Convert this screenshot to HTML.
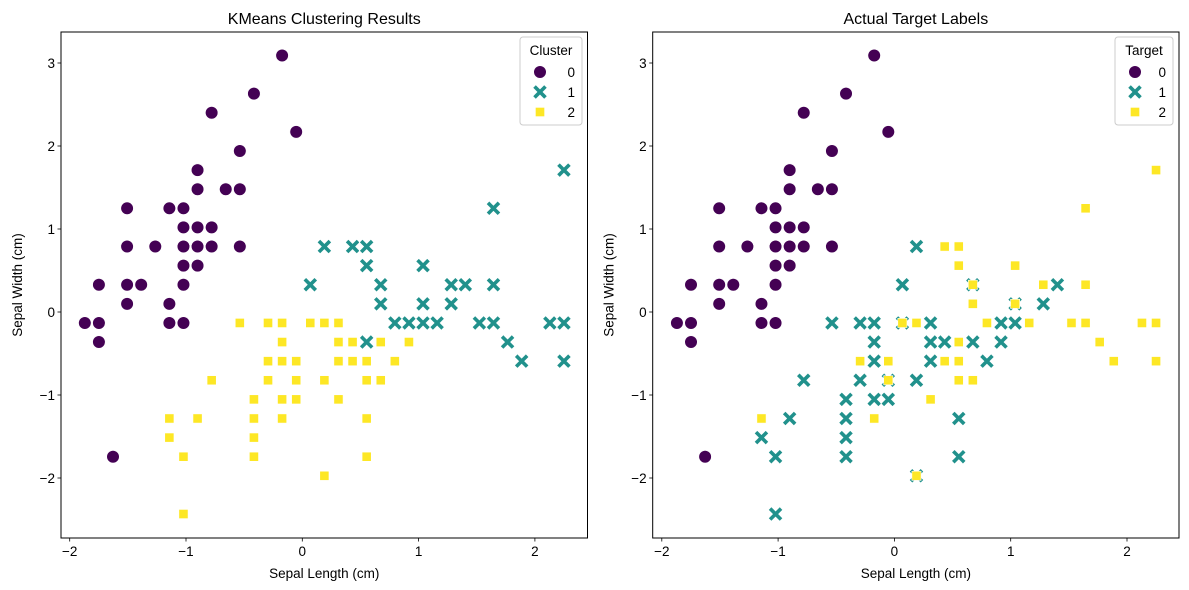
<!DOCTYPE html>
<html><head><meta charset="utf-8">
<style>
html,body{margin:0;padding:0;background:#fff;}
svg{display:block;font-family:"Liberation Sans","DejaVu Sans",sans-serif;}
</style></head>
<body>
<svg id="chart" width="1189" height="590" viewBox="0 0 1189 590" xmlns="http://www.w3.org/2000/svg"></svg>
<script>
// Iris sepal measurements (cm) as shown in the plot
const sepalLength = [5.7,5.5,5.2,5.8,5.4,5.1,5.1,5.3,5.4,4.6,4.9,5.0,5.0,5.1,5.2,4.6,4.8,5.0,5.1,5.2,5.4,5.0,5.1,4.4,4.6,4.7,5.0,4.6,4.9,4.3,4.4,4.9,5.0,4.4,4.5,
 6.0,5.9,6.4,7.0,6.7,6.9,5.4,5.6,5.7,5.9,6.1,6.6,6.7,5.7,6.1,6.2,6.4,6.6,5.7,6.1,6.5,5.2,5.6,5.8,6.0,5.5,5.7,5.8,5.1,5.5,6.3,4.9,5.5,5.0,5.5,6.3,6.0,5.0,
 7.7,7.2,6.2,6.3,6.3,6.7,6.4,6.9,7.2,6.4,6.7,5.9,6.0,6.5,6.8,7.1,7.2,7.6,7.7,6.3,7.3,5.6,5.8,6.2,6.3,7.4,7.7,5.8,6.3,6.4,6.1,4.9,5.7,6.0];
const sepalWidth = [4.4,4.2,4.1,4.0,3.9,3.8,3.7,3.7,3.7,3.6,3.6,3.6,3.5,3.5,3.5,3.4,3.4,3.4,3.4,3.4,3.4,3.3,3.3,3.2,3.2,3.2,3.2,3.1,3.1,3.0,3.0,3.0,3.0,2.9,2.3,
 3.4,3.2,3.2,3.2,3.1,3.1,3.0,3.0,3.0,3.0,3.0,3.0,3.0,2.9,2.9,2.9,2.9,2.9,2.8,2.8,2.8,2.7,2.7,2.7,2.7,2.6,2.6,2.6,2.5,2.5,2.5,2.4,2.4,2.3,2.3,2.3,2.2,2.0,
 3.8,3.6,3.4,3.4,3.3,3.3,3.2,3.2,3.2,3.1,3.1,3.0,3.0,3.0,3.0,3.0,3.0,3.0,3.0,2.9,2.9,2.8,2.8,2.8,2.8,2.8,2.8,2.7,2.7,2.7,2.6,2.5,2.5,2.2];
const targetLabels = [0,0,0,0,0,0,0,0,0,0,0,0,0,0,0,0,0,0,0,0,0,0,0,0,0,0,0,0,0,0,0,0,0,0,0,
 1,1,1,1,1,1,1,1,1,1,1,1,1,1,1,1,1,1,1,1,1,1,1,1,1,1,1,1,1,1,1,1,1,1,1,1,1,1,
 2,2,2,2,2,2,2,2,2,2,2,2,2,2,2,2,2,2,2,2,2,2,2,2,2,2,2,2,2,2,2,2,2,2];
const clusterLabels = [0,0,0,0,0,0,0,0,0,0,0,0,0,0,0,0,0,0,0,0,0,0,0,0,0,0,0,0,0,0,0,0,0,0,0,
 1,1,1,1,1,1,2,2,2,2,2,1,1,2,2,2,2,2,2,2,2,2,2,2,2,2,2,2,2,2,2,2,2,2,2,2,2,2,
 1,1,1,1,1,1,1,1,1,1,1,2,2,1,1,1,1,1,1,1,1,2,2,2,2,1,1,2,2,2,2,2,2,2];
// StandardScaler parameters (full iris dataset)
const scalerMean = [5.8433, 3.0573];
const scalerStd = [0.8253, 0.4344];
const xTicks = [-2,-1,0,1,2];
const yTicks = [-2,-1,0,1,2,3];
const legendLabels = ['0','1','2'];

const colors = ['#440154','#21918c','#fde725'];
const NS = 'http://www.w3.org/2000/svg';
const svg = document.getElementById('chart');
function mk(tag, attrs, parent){
  const e = document.createElementNS(NS, tag);
  for (const k in attrs) e.setAttribute(k, attrs[k]);
  (parent||svg).appendChild(e);
  return e;
}
function fmt(v){ return v<0 ? '\u2212'+Math.abs(v) : String(v); }

function marker(g, kind, cx, cy){
  let m;
  if (kind===0){
    m = mk('circle',{cx:cx,cy:cy,r:6.3,fill:colors[0],stroke:'#fff','stroke-width':0.6},g);
  } else if (kind===1){
    m = mk('g',{},g);
    const d = 4.2;
    mk('path',{d:`M${cx-d},${cy-d}L${cx+d},${cy+d}M${cx-d},${cy+d}L${cx+d},${cy-d}`,stroke:'#fff','stroke-width':5,'stroke-linecap':'square',fill:'none'},m);
    mk('path',{d:`M${cx-d},${cy-d}L${cx+d},${cy+d}M${cx-d},${cy+d}L${cx+d},${cy-d}`,stroke:colors[1],'stroke-width':3.6,'stroke-linecap':'square',fill:'none'},m);
  } else {
    m = mk('rect',{x:cx-4.6,y:cy-4.6,width:9.2,height:9.2,fill:colors[2],stroke:'#fff','stroke-width':0.6},g);
  }
  return m;
}

function panel(cfg){
  const g = mk('g',{});
  
  
  const xs = v => cfg.x0 + v*116.3;
  const ys = v => 312 - v*83;
  // points
  const pts = mk('g',{},g);
  
  
  for (let i=0;i<sepalLength.length;i++){
    const vx = (sepalLength[i]-scalerMean[0])/scalerStd[0];
    const vy = (sepalWidth[i]-scalerMean[1])/scalerStd[1];
    const m = marker(pts, cfg.labels[i], xs(vx), ys(vy));
    
    
  }
  // frame
  const fr = mk('rect',{x:cfg.left,y:32,width:cfg.right-cfg.left,height:506,fill:'none',stroke:'#000','stroke-width':1},g);
  
  
  // x ticks
  xTicks.forEach(t=>{
    const x = xs(t);
    mk('line',{x1:x,y1:538,x2:x,y2:541.5,stroke:'#000','stroke-width':0.8},g);
    const tl = mk('text',{x:x,y:556,'font-size':13.5,'text-anchor':'middle',fill:'#000'},g);
    tl.textContent = fmt(t);
    
    
  });
  yTicks.forEach(t=>{
    const y = ys(t);
    mk('line',{x1:cfg.left-3.5,y1:y,x2:cfg.left,y2:y,stroke:'#000','stroke-width':0.8},g);
    const tl = mk('text',{x:cfg.left-6,y:y+5,'font-size':13.5,'text-anchor':'end',fill:'#000'},g);
    tl.textContent = fmt(t);
    
    
  });
  const cx = (cfg.left+cfg.right)/2;
  const ti = mk('text',{x:cx,y:24,'font-size':16,'text-anchor':'middle',fill:'#000'},g);
  ti.textContent = cfg.title;
  
  
  const xl = mk('text',{x:cx,y:578,'font-size':13.5,'text-anchor':'middle',fill:'#000'},g);
  xl.textContent = 'Sepal Length (cm)';
  
  
  const yx = cfg.left-39, yy = 285;
  const yl = mk('text',{x:yx,y:yy,'font-size':13.5,'text-anchor':'middle',fill:'#000',transform:`rotate(-90 ${yx} ${yy})`},g);
  yl.textContent = 'Sepal Width (cm)';
  
  
  // legend
  const lg = mk('g',{},g);
  
  
  mk('rect',{x:cfg.legX,y:37,width:cfg.legW,height:88,rx:3,fill:'#fff','fill-opacity':0.8,stroke:'#ccc','stroke-width':1},lg);
  const lt = mk('text',{x:cfg.legX+cfg.legW/2,y:55,'font-size':13.5,'text-anchor':'middle',fill:'#000'},lg);
  lt.textContent = cfg.legTitle;
  
  
  legendLabels.forEach((lab,k)=>{
    const y = 72 + k*20;
    const e = mk('g',{},lg);
    
    
    marker(e, k, cfg.legX+20, y);
    const t = mk('text',{x:cfg.legX+cfg.legW-7,y:y+5,'font-size':13.5,'text-anchor':'end',fill:'#000'},e);
    t.textContent = lab;
  });
}

panel({name:'kmeans-panel',title:'KMeans Clustering Results',x0:302.3,left:61,right:587.5,labels:clusterLabels,legTitle:'Cluster',legX:520,legW:62});
panel({name:'target-panel',title:'Actual Target Labels',x0:894.4,left:652.7,right:1179,labels:targetLabels,legTitle:'Target',legX:1115,legW:58});
</script>
</body></html>
